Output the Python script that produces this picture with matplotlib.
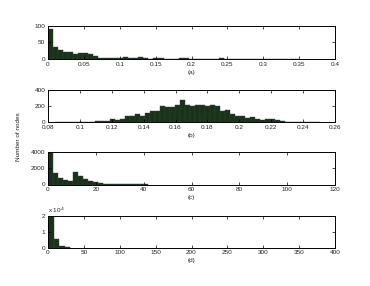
import numpy as np
import matplotlib
matplotlib.use('Agg')
import matplotlib.pyplot as plt

# (a) histogram, bin width 0.007 from 0
a_width = 0.007
a_counts = [90, 35, 27, 20, 22, 15, 18, 19, 16, 10,
            2, 3, 2, 3, 2, 7, 4, 2, 6, 3,
            1, 4, 2, 0, 0, 1, 2, 2, 0, 0,
            1, 1, 1, 1, 2, 0, 0, 0, 0, 0,
            0, 0, 0, 1, 1, 1, 1, 0, 1, 0]

# (b) histogram
b_start = 0.0843
b_width = 0.00314
b_counts = [2, 1, 2, 3, 3, 5, 6, 5, 8, 15,
            12, 35, 25, 40, 70, 80, 100, 80, 110, 140,
            135, 200, 180, 185, 215, 265, 215, 200, 215, 205,
            200, 205, 200, 135, 145, 95, 80, 70, 55, 60,
            40, 30, 40, 40, 20, 10, 5, 4, 3, 2,
            2, 1, 1]

# (c) histogram
c_width = 2.1
c_counts = [4000, 1400, 780, 540, 450, 1600, 990, 650, 450, 290,
            165, 80, 50, 30, 20, 15, 10, 8, 5, 4]

# (d) histogram, units of 1e4
d_width = 7.8
d_counts = [2.0, 0.55, 0.12, 0.01]

FS = 4.6
FACE = '#183418'
EDGE = '#3a3a3a'

fig = plt.figure(figsize=(3.7, 2.86), dpi=100)
W, H = 370.0, 286.0


def make_axes(top, bottom):
    return fig.add_axes([48 / W, 1 - bottom / H, 287 / W, (bottom - top) / H])


def style(ax, xlim, ylim, xticks, yticks, xlabels, title):
    ax.set_xlim(xlim)
    ax.set_ylim(ylim)
    ax.set_xticks(xticks)
    ax.set_xticklabels(xlabels)
    ax.set_yticks(yticks)
    ax.tick_params(direction='in', length=2, width=0.5, labelsize=FS, pad=2,
                   top=True, right=True, labelcolor='#222222')
    for s in ax.spines.values():
        s.set_linewidth(0.7)
    ax.set_xlabel(title, fontsize=FS, labelpad=2, color='#222222')


def fmt(v):
    return ('%g' % v)


plt.rcParams['font.family'] = ['Liberation Sans', 'DejaVu Sans']

# (a)
ax = make_axes(25.5, 59)
x = np.arange(len(a_counts)) * a_width
ax.bar(x, a_counts, width=a_width, align='edge', color=FACE, edgecolor=EDGE, linewidth=0.3)
xt = np.arange(0, 0.401, 0.05)
style(ax, (0, 0.4), (0, 100), xt, [0, 50, 100], [fmt(round(v, 2)) for v in xt], '(a)')

# (b)
ax = make_axes(89.5, 122)
x = b_start + np.arange(len(b_counts)) * b_width
ax.bar(x, b_counts, width=b_width, align='edge', color=FACE, edgecolor=EDGE, linewidth=0.3)
xt = np.arange(0.08, 0.2601, 0.02)
style(ax, (0.08, 0.26), (0, 400), xt, [0, 200, 400], [fmt(round(v, 2)) for v in xt], '(b)')

# (c)
ax = make_axes(152, 184.5)
x = np.arange(len(c_counts)) * c_width
ax.bar(x, c_counts, width=c_width, align='edge', color=FACE, edgecolor=EDGE, linewidth=0.3)
xt = np.arange(0, 121, 20)
style(ax, (0, 120), (0, 4000), xt, [0, 2000, 4000], [fmt(v) for v in xt], '(c)')

# (d)
ax = make_axes(215.5, 247.5)
x = np.arange(len(d_counts)) * d_width
ax.bar(x, d_counts, width=d_width, align='edge', color=FACE, edgecolor=EDGE, linewidth=0.3)
xt = np.arange(0, 401, 50)
style(ax, (0, 400), (0, 2), xt, [0, 1, 2], [fmt(v) for v in xt], '(d)')
ax.text(0, 1.03, r'x 10$^4$', transform=ax.transAxes, fontsize=FS, ha='left', va='bottom',
        color='#222222')

fig.text(18 / W, 1 - 137 / H, 'Number of nodes', rotation=90, fontsize=FS,
         ha='center', va='center', color='#222222')

fig.savefig('out.png', dpi=100)
